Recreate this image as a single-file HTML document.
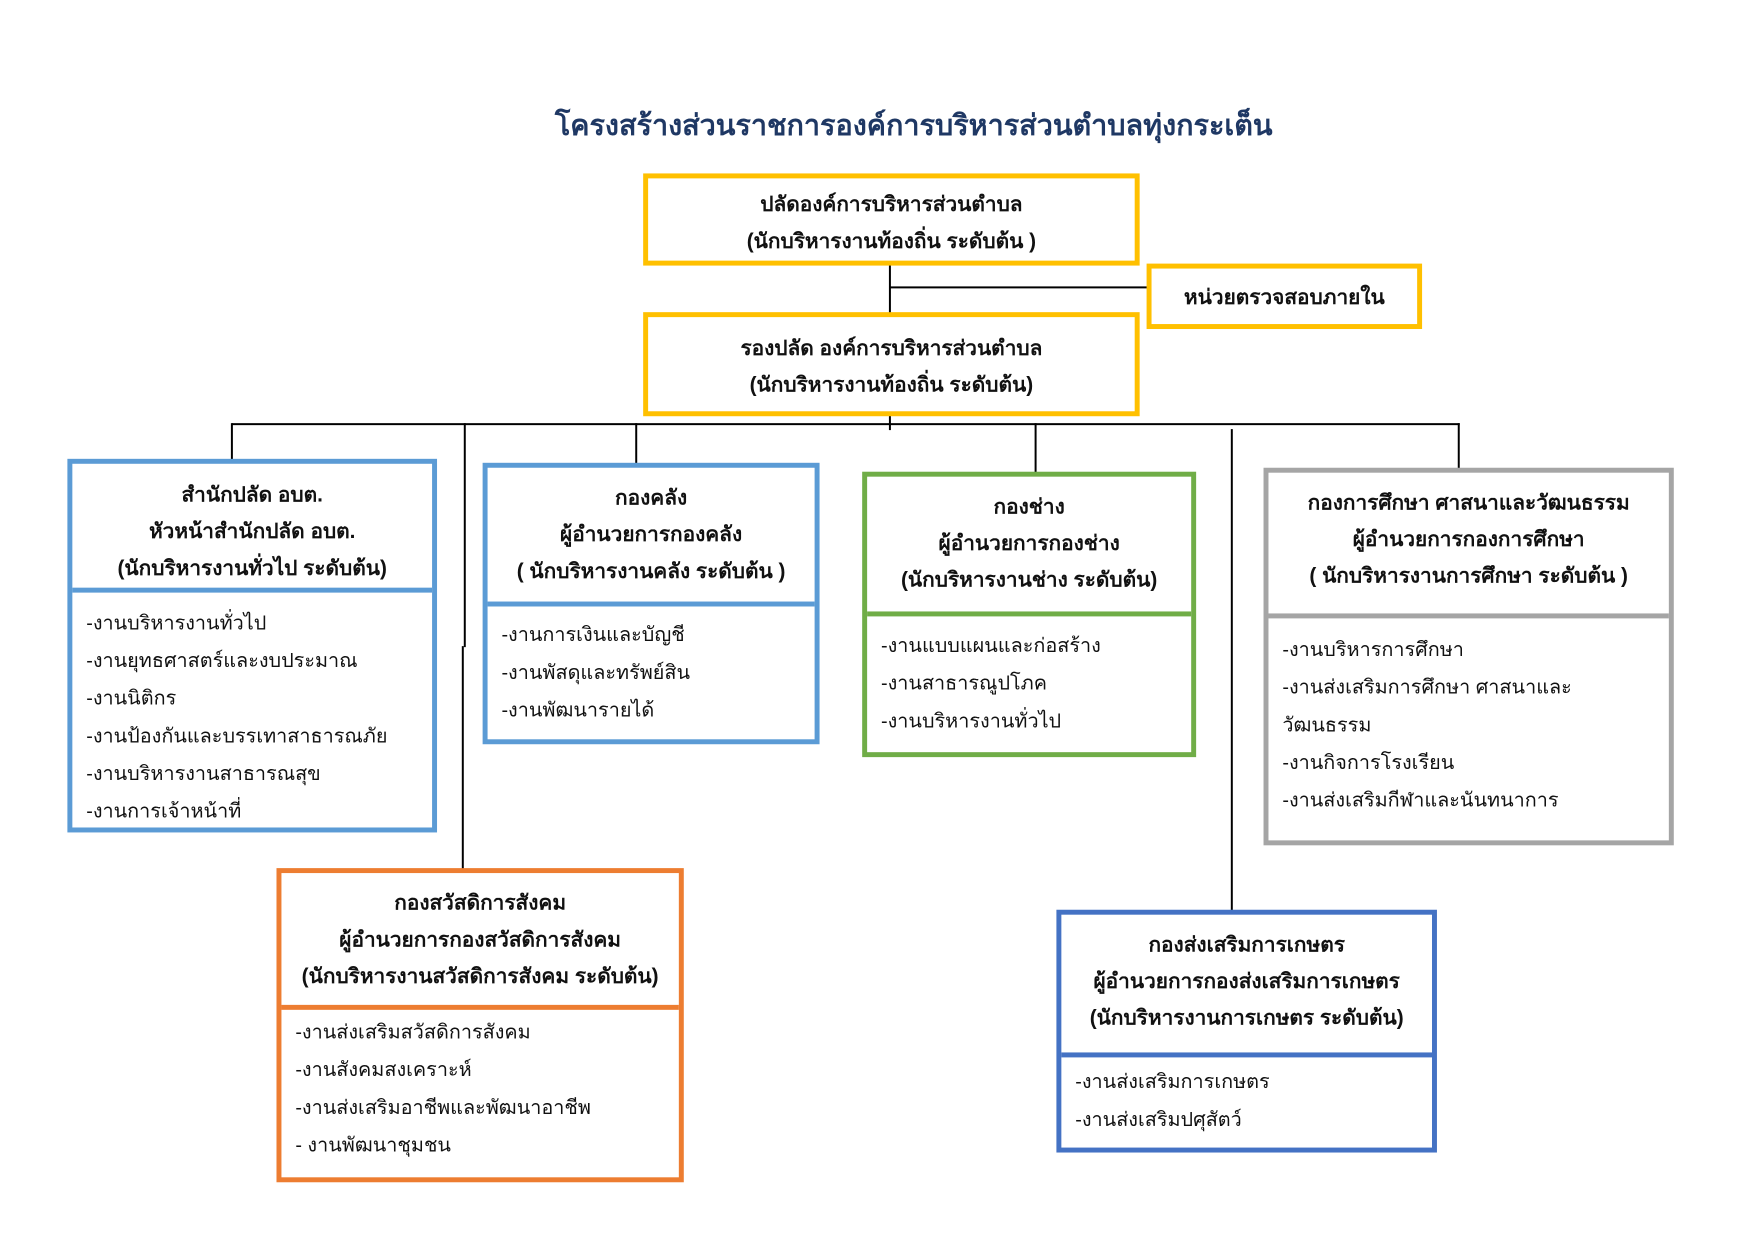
<!DOCTYPE html>
<html><head><meta charset="utf-8"><style>
body{margin:0;width:1754px;height:1241px;background:#fff;position:relative;overflow:hidden;font-family:"Liberation Sans","DejaVu Sans",sans-serif;color:#111}
#w{position:absolute;left:0;top:0;width:1754px;height:1241px;transform:scale(0.991);transform-origin:0 0}
.b{position:absolute;box-sizing:border-box;border:5px solid}
.h{position:absolute;left:0;right:0;top:0;box-sizing:border-box;text-align:center;font-weight:bold;font-size:21px;line-height:37px}
.d{position:absolute;left:0;right:0;bottom:0;box-sizing:border-box;font-size:20px;line-height:38px;padding-left:14px}
.l{position:absolute;background:#000}
</style></head><body><div id="w">
<div style="position:absolute;left:472px;top:103px;width:900px;text-align:center;font-size:29px;color:#1F3864;font-weight:bold;white-space:nowrap">โครงสร้างส่วนราชการองค์การบริหารส่วนตำบลทุ่งกระเต็น</div>

<div class="l" style="left:897px;top:266px;width:2px;height:52px"></div>
<div class="l" style="left:898px;top:289px;width:261px;height:2px"></div>
<div class="l" style="left:897px;top:418px;width:2px;height:16px"></div>
<div class="l" style="left:234px;top:427px;width:1239px;height:2px"></div>
<div class="l" style="left:233px;top:427px;width:2px;height:38px"></div>
<div class="l" style="left:641px;top:427px;width:2px;height:42px"></div>
<div class="l" style="left:1044px;top:427px;width:2px;height:51px"></div>
<div class="l" style="left:1471px;top:427px;width:2px;height:47px"></div>
<div class="l" style="left:468px;top:427px;width:2px;height:226px"></div>
<div class="l" style="left:466px;top:652px;width:2px;height:226px"></div>
<div class="l" style="left:1242px;top:433px;width:2px;height:487px"></div>

<div class="b" style="left:649px;top:175px;width:501px;height:93px;border-color:#FFC000">
<div class="h" style="top:8px">ปลัดองค์การบริหารส่วนตำบล<br>(นักบริหารงานท้องถิ่น ระดับต้น )</div></div>
<div class="b" style="left:1157px;top:266px;width:278px;height:66px;border-color:#FFC000">
<div class="h" style="top:11px">หน่วยตรวจสอบภายใน</div></div>
<div class="b" style="left:649px;top:315px;width:501px;height:105px;border-color:#FFC000">
<div class="h" style="top:13px">รองปลัด องค์การบริหารส่วนตำบล<br>(นักบริหารงานท้องถิ่น ระดับต้น)</div></div>

<div class="b" style="left:68px;top:463px;width:373px;height:377px;border-color:#5B9BD5">
<div class="h" style="top:13px;height:117px;border-bottom:5px solid #5B9BD5">สำนักปลัด อบต.<br>หัวหน้าสำนักปลัด อบต.<br>(นักบริหารงานทั่วไป ระดับต้น)</div>
<div class="d" style="top:142px">-งานบริหารงานทั่วไป<br>-งานยุทธศาสตร์และงบประมาณ<br>-งานนิติกร<br>-งานป้องกันและบรรเทาสาธารณภัย<br>-งานบริหารงานสาธารณสุข<br>-งานการเจ้าหน้าที่</div></div>

<div class="b" style="left:487px;top:467px;width:340px;height:284px;border-color:#5B9BD5">
<div class="h" style="top:12px;height:128px;border-bottom:5px solid #5B9BD5;padding-top:0">กองคลัง<br>ผู้อำนวยการกองคลัง<br>( นักบริหารงานคลัง ระดับต้น )</div>
<div class="d" style="top:150px;line-height:38px">-งานการเงินและบัญชี<br>-งานพัสดุและทรัพย์สิน<br>-งานพัฒนารายได้</div></div>

<div class="b" style="left:870px;top:476px;width:337px;height:288px;border-color:#70AD47">
<div class="h" style="top:12px;height:129px;border-bottom:5px solid #70AD47">กองช่าง<br>ผู้อำนวยการกองช่าง<br>(นักบริหารงานช่าง ระดับต้น)</div>
<div class="d" style="top:152px">-งานแบบแผนและก่อสร้าง<br>-งานสาธารณูปโภค<br>-งานบริหารงานทั่วไป</div></div>

<div class="b" style="left:1275px;top:472px;width:414px;height:381px;border-color:#A5A5A5">
<div class="h" style="top:12px;height:135px;border-bottom:5px solid #A5A5A5">กองการศึกษา ศาสนาและวัฒนธรรม<br>ผู้อำนวยการกองการศึกษา<br>( นักบริหารงานการศึกษา ระดับต้น )</div>
<div class="d" style="top:160px">-งานบริหารการศึกษา<br>-งานส่งเสริมการศึกษา ศาสนาและ<br>วัฒนธรรม<br>-งานกิจการโรงเรียน<br>-งานส่งเสริมกีฬาและนันทนาการ</div></div>

<div class="b" style="left:279px;top:876px;width:411px;height:317px;border-color:#ED7D31">
<div class="h" style="top:12px;height:126px;border-bottom:5px solid #ED7D31">กองสวัสดิการสังคม<br>ผู้อำนวยการกองสวัสดิการสังคม<br>(นักบริหารงานสวัสดิการสังคม ระดับต้น)</div>
<div class="d" style="top:142px">-งานส่งเสริมสวัสดิการสังคม<br>-งานสังคมสงเคราะห์<br>-งานส่งเสริมอาชีพและพัฒนาอาชีพ<br>- งานพัฒนาชุมชน</div></div>

<div class="b" style="left:1066px;top:918px;width:384px;height:245px;border-color:#4472C4">
<div class="h" style="top:12px;height:132px;border-bottom:5px solid #4472C4">กองส่งเสริมการเกษตร<br>ผู้อำนวยการกองส่งเสริมการเกษตร<br>(นักบริหารงานการเกษตร ระดับต้น)</div>
<div class="d" style="top:150px">-งานส่งเสริมการเกษตร<br>-งานส่งเสริมปศุสัตว์</div></div>
</div></body></html>
